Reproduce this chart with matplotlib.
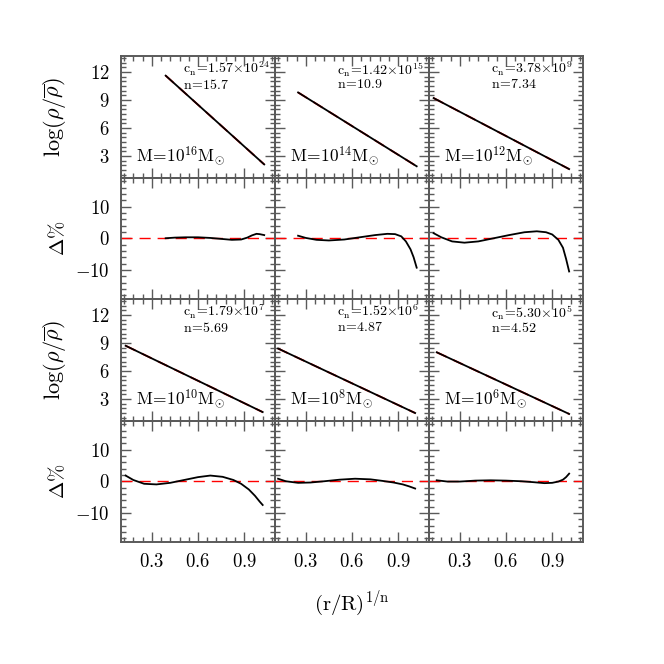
import matplotlib
matplotlib.use("Agg")
from matplotlib import pyplot as plt
from matplotlib.ticker import MultipleLocator, FixedLocator
import numpy as np

plt.rcParams['font.family'] = 'serif'
plt.rcParams['font.serif'] = ['cmr10', 'DejaVu Serif']
plt.rcParams['mathtext.fontset'] = 'cm'
plt.rcParams['axes.formatter.use_mathtext'] = True

# panel labels
masses = ['16', '14', '12', '10', '8', '6']
cn_mant = ['1.57', '1.42', '3.78', '1.79', '1.52', '5.30']
cn_exp = ['24', '15', '9', '7', '6', '5']
n_vals = ['15.7', '10.9', '7.34', '5.69', '4.87', '4.52']

# density profiles, x = (r/R)^(1/n), y = log(rho/rhobar)
dens_x = [
    [0.39, 1.03],
    [0.25, 1.02],
    [0.13, 1.01],
    [0.13, 1.02],
    [0.12, 1.01],
    [0.15, 1.01],
]
dens_y = [
    [11.6, 2.1],
    [9.8, 1.9],
    [9.2, 1.6],
    [8.7, 1.6],
    [8.4, 1.5],
    [8.0, 1.4],
]

# residuals in percent
res_x = [
    [0.39, 0.45, 0.52, 0.60, 0.68, 0.75, 0.82, 0.88, 0.92, 0.95, 0.98, 1.00, 1.03],
    [0.25, 0.30, 0.37, 0.45, 0.55, 0.65, 0.75, 0.83, 0.88, 0.92, 0.95, 0.98, 1.00, 1.02],
    [0.13, 0.18, 0.25, 0.33, 0.42, 0.52, 0.62, 0.72, 0.80, 0.86, 0.90, 0.94, 0.97, 0.99, 1.01],
    [0.13, 0.18, 0.25, 0.33, 0.42, 0.52, 0.60, 0.68, 0.76, 0.83, 0.88, 0.93, 0.97, 1.00, 1.02],
    [0.12, 0.17, 0.25, 0.33, 0.42, 0.52, 0.62, 0.72, 0.80, 0.87, 0.93, 0.97, 1.01],
    [0.15, 0.22, 0.30, 0.40, 0.50, 0.60, 0.70, 0.78, 0.85, 0.90, 0.94, 0.97, 0.99, 1.01],
]
res_y = [
    [0.0, 0.2, 0.3, 0.3, 0.1, -0.2, -0.5, -0.4, 0.2, 0.9, 1.4, 1.3, 1.0],
    [0.8, 0.1, -0.5, -0.7, -0.4, 0.3, 1.0, 1.4, 1.3, 0.6, -1.0, -3.5, -6.0, -9.3],
    [1.6, 0.3, -1.0, -1.4, -1.0, 0.0, 1.0, 1.9, 2.2, 1.9, 1.2, -0.5, -3.0, -6.5, -10.5],
    [1.8, 0.4, -0.8, -1.0, -0.5, 0.5, 1.3, 1.8, 1.4, 0.4, -0.8, -2.6, -4.6, -6.4, -7.5],
    [0.8, 0.0, -0.5, -0.4, 0.0, 0.5, 0.8, 0.6, 0.1, -0.4, -1.0, -1.6, -2.3],
    [0.3, -0.1, -0.1, 0.2, 0.3, 0.2, 0.0, -0.3, -0.6, -0.5, -0.1, 0.5, 1.3, 2.4],
]

frame_col = '#5a5a5a'

fig = plt.figure(figsize=(6.64, 6.64), dpi=100)
gs = fig.add_gridspec(4, 3, left=121/664, right=583/664, top=1-56/664, bottom=1-542/664,
                      hspace=0, wspace=0)


def style(ax):
    ax.set_facecolor('none')
    for sp in ax.spines.values():
        sp.set_color(frame_col)
        sp.set_linewidth(1.4)
    ax.tick_params(which='both', direction='in', top=True, right=True, color=frame_col,
                   labelsize=13.5, pad=8)
    ax.tick_params(which='major', length=7.5, width=1.0)
    ax.tick_params(which='minor', length=3.8, width=1.0)
    ax.set_xlim(0.1, 1.1)
    ax.xaxis.set_major_locator(FixedLocator([0.3, 0.6, 0.9]))
    ax.xaxis.set_minor_locator(FixedLocator(np.arange(0.12, 1.1, 0.06)))


for k in range(6):
    prow = (k // 3) * 2
    col = k % 3
    ax = fig.add_subplot(gs[prow, col])
    axr = fig.add_subplot(gs[prow + 1, col])

    # density panel
    style(ax)
    ax.set_ylim(0.7, 13.7)
    ax.yaxis.set_major_locator(FixedLocator([3, 6, 9, 12]))
    ax.yaxis.set_minor_locator(MultipleLocator(0.5))
    ax.plot(dens_x[k], dens_y[k], color='red', lw=1.3, dashes=(6, 4))
    ax.plot(dens_x[k], dens_y[k], color='black', lw=1.3)
    ax.text(0.40, 0.89, r'$\mathrm{c_n\!=\!%s\!\times\!10^{%s}}$' % (cn_mant[k], cn_exp[k]),
            transform=ax.transAxes, fontsize=10, ha='left', va='center', zorder=5)
    ax.text(0.40, 0.765, r'$\mathrm{n\!=\!%s}$' % n_vals[k],
            transform=ax.transAxes, fontsize=10, ha='left', va='center', zorder=5)
    ax.text(0.1, 0.13, r'$\mathrm{M\!=\!10^{%s}M_{\odot}}$' % masses[k],
            transform=ax.transAxes, fontsize=12.5, ha='left', va='baseline', zorder=5)
    ax.tick_params(labelbottom=False)

    # residual panel
    style(axr)
    axr.set_ylim(-19.2, 19.2)
    axr.yaxis.set_major_locator(FixedLocator([-10, 0, 10]))
    axr.yaxis.set_minor_locator(MultipleLocator(2))
    axr.axhline(0, color='red', lw=1.0, dashes=(8, 5))
    axr.plot(res_x[k], res_y[k], color='black', lw=1.3)
    if prow == 0:
        axr.tick_params(labelbottom=False)

    if col == 0:
        ax.set_ylabel(r'$\log(\rho/\overline{\rho})$', fontsize=16)
        axr.set_ylabel(r'$\Delta\%$', fontsize=15)
        ax.yaxis.set_label_coords(-0.345, 0.5)
        axr.yaxis.set_label_coords(-0.345, 0.5)
    else:
        ax.tick_params(labelleft=False)
        axr.tick_params(labelleft=False)

fig.text(352/664, 1-603/664, r'$\mathrm{(r/R)^{1/n}}$', fontsize=15, ha='center', va='center')

plt.savefig('out.png', dpi=100)
